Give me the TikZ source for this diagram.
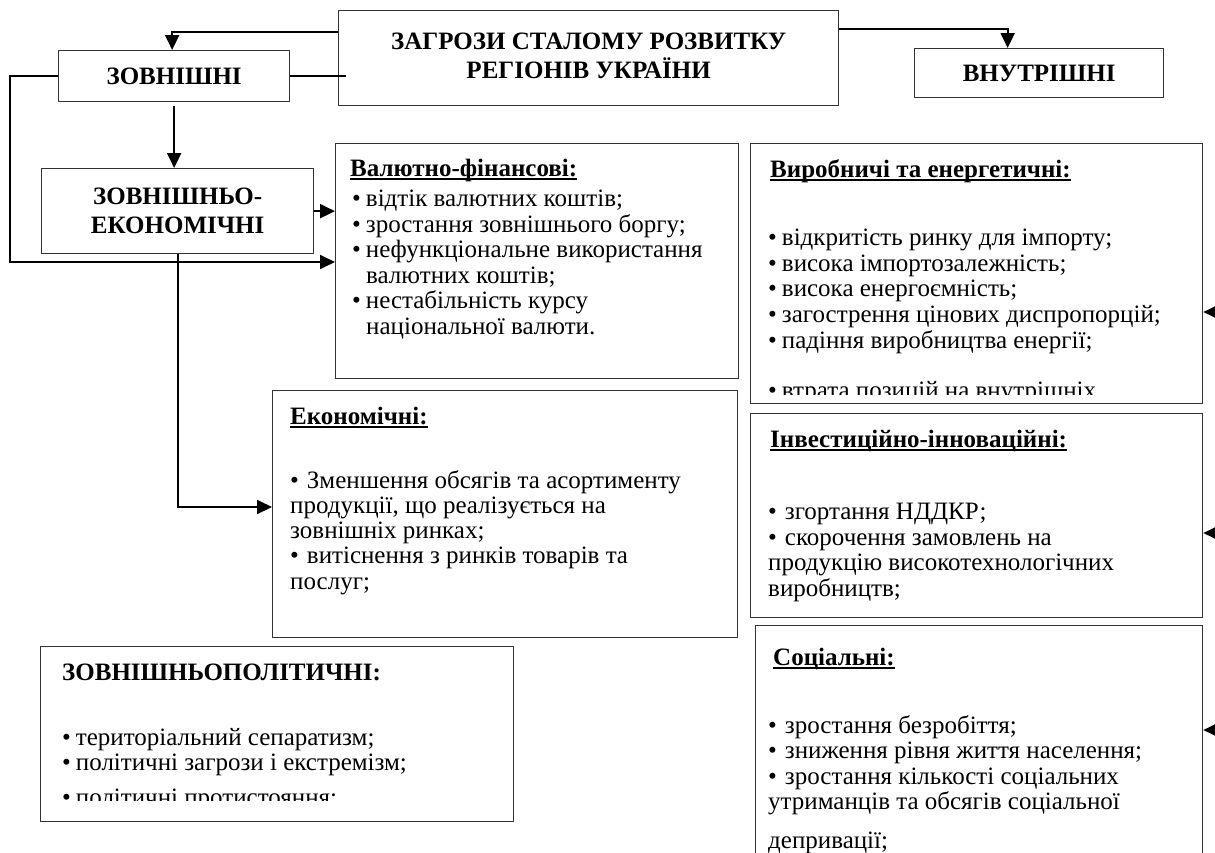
\documentclass[tikz,border=0pt]{standalone}
\usepackage{fontspec}
\setmainfont{Liberation Serif}
\usetikzlibrary{arrows.meta,calc}
\newcommand{\myul}[1]{\setbox0\hbox{#1}\rlap{\rule[-3.5pt]{\wd0}{1.8pt}}\box0}
\newcommand{\bl}{•\hspace{5pt}}
\newcommand{\blw}{•\hspace{8pt}}
\tikzset{
  box/.style={draw=black!80, line width=1.3pt, rectangle, inner sep=0pt, anchor=north west},
  conn/.style={line width=2pt, draw=black},
  arr/.style={-{Triangle[length=15pt,width=14pt]}},
  txt/.style={anchor=base west, inner sep=0pt, font=\fontsize{25}{26}\selectfont},
  hd/.style={inner sep=0pt, align=center, font=\fontsize{25}{29}\selectfont\bfseries},
}
\begin{document}
\begin{tikzpicture}[x=1pt,y=-1pt]
\useasboundingbox (0,0) rectangle (1215,852);
\begin{scope}
\clip (0,0) rectangle (1215,852);
% boxes
\node[box, minimum width=500pt, minimum height=95pt] (c) at (338,10) {};
\node[box, minimum width=231pt, minimum height=51pt] (zovn) at (58,50) {};
\node[box, minimum width=249pt, minimum height=49pt] (vnutr) at (914,48) {};
\node[box, minimum width=272pt, minimum height=85pt] (ze) at (41,168) {};
\node[box, minimum width=403pt, minimum height=235pt] (val) at (335,143) {};
\node[box, minimum width=452pt, minimum height=260pt] (vyr) at (750,143) {};
\node[box, minimum width=465pt, minimum height=247pt] (eko) at (272,390) {};
\node[box, minimum width=452pt, minimum height=204pt] (inv) at (750,413) {};
\node[box, minimum width=447pt, minimum height=250pt] (soc) at (755,625) {};
\node[box, minimum width=473pt, minimum height=175pt] (pol) at (40,646) {};

% headings
\node[hd] (ct) at ($(c.center)+(0,-2)$) {ЗАГРОЗИ СТАЛОМУ РОЗВИТКУ\\РЕГІОНІВ УКРАЇНИ};
\node[hd] (zt) at (zovn.center) {ЗОВНІШНІ};
\node[hd] (vt) at (vnutr.center) {ВНУТРІШНІ};
\node[hd] (zet) at (ze.center) {ЗОВНІШНЬО-\\ЕКОНОМІЧНІ};

% Валютно-фінансові
\node[txt] (v0) at (350,176) {\bfseries\myul{Валютно-фінансові:}};
\node[txt] (v1) at (352,206) {\bl відтік валютних коштів;};
\node[txt] (v2) at (352,232) {\bl зростання зовнішнього боргу;};
\node[txt] (v3) at (352,257) {\bl нефункціональне використання};
\node[txt] (v4) at (366,283) {валютних коштів;};
\node[txt] (v5) at (352,308) {\bl нестабільність курсу};
\node[txt] (v6) at (366,334) {національної валюти.};

% Виробничі
\begin{scope}
\clip (750,143) rectangle (1202,394);
\node[txt] (p0) at (770,177) {\bfseries\myul{Виробничі та енергетичні:}};
\node[txt] (p1) at (768,245) {\bl відкритість ринку для імпорту;};
\node[txt] (p2) at (768,271) {\bl висока імпортозалежність;};
\node[txt] (p3) at (768,296) {\bl висока енергоємність;};
\node[txt] (p4) at (768,322) {\bl загострення цінових диспропорцій;};
\node[txt] (p5) at (768,348) {\bl падіння виробництва енергії;};
\node[txt] (p6) at (768,398) {\bl втрата позицій на внутрішніх};
\end{scope}

% Економічні
\node[txt] (e0) at (290,424) {\bfseries\myul{Економічні:}};
\node[txt] (e1) at (290,488) {\blw Зменшення обсягів та асортименту};
\node[txt] (e2) at (290,513) {продукції, що реалізується на};
\node[txt] (e3) at (290,538) {зовнішніх ринках;};
\node[txt] (e4) at (290,563) {\blw витіснення з ринків товарів та};
\node[txt] (e5) at (290,589) {послуг;};

% Інвестиційно-інноваційні
\node[txt] (i0) at (770,447) {\bfseries\myul{Інвестиційно-інноваційні:}};
\node[txt] (i1) at (768,519) {\blw згортання НДДКР;};
\node[txt] (i2) at (768,545) {\blw скорочення замовлень на};
\node[txt] (i3) at (768,570) {продукцію високотехнологічних};
\node[txt] (i4) at (768,596) {виробництв;};

% Соціальні
\node[txt] (s0) at (773,665) {\bfseries\myul{Соціальні:}};
\node[txt] (s1) at (768,733) {\blw зростання безробіття;};
\node[txt] (s2) at (768,758) {\blw зниження рівня життя населення;};
\node[txt] (s3) at (768,784) {\blw зростання кількості соціальних};
\node[txt] (s4) at (768,809) {утриманців та обсягів соціальної};
\node[txt] (s5) at (768,848) {депривації;};

% Зовнішньополітичні
\begin{scope}
\clip (40,646) rectangle (513,800);
\node[txt] (o0) at (62,680) {\bfseries ЗОВНІШНЬОПОЛІТИЧНІ:};
\node[txt] (o1) at (62,745) {\bl територіальний сепаратизм;};
\node[txt] (o2) at (62,770) {\bl політичні загрози і екстремізм;};
\node[txt] (o3) at (62,805) {\bl політичні протистояння;};
\end{scope}

% connectors
\draw[conn,arr] ([yshift=-22pt]c.north west) -| ([xshift=-2pt]zovn.north);
\draw[conn] (zovn.east) -- ++(56,0);
\draw[conn,arr] ([yshift=-19pt]c.north east) -| ([xshift=-31.5pt]vnutr.north);
\draw[conn,arr] ([yshift=-4pt]zovn.south) -- (zovn.south |- ze.north);
\draw[conn,arr] (ze.east) -- (ze.east -| val.west);
\draw[conn,arr] (zovn.west) -- ++(-48,0) |- ([yshift=-119pt]val.north west);
\draw[conn,arr] (ze.south) |- ([yshift=-117pt]eko.north west);
\coordinate (r1) at (1220,312);
\coordinate (r2) at (1220,533);
\coordinate (r3) at (1220,730);
\draw[conn,arr] (r1) -- (r1 -| vyr.east);
\draw[conn,arr] (r2) -- (r2 -| inv.east);
\draw[conn,arr] (r3) -- (r3 -| soc.east);
\end{scope}
\end{tikzpicture}
\end{document}
